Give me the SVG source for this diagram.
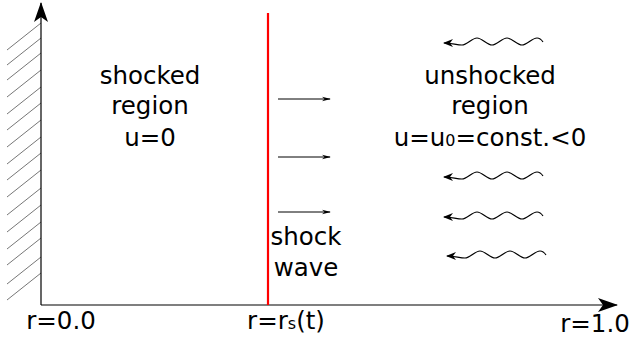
<svg xmlns="http://www.w3.org/2000/svg" width="631" height="339" viewBox="0 0 631 339">
<defs>
<marker id="ah" viewBox="0 0 10 10" refX="9" refY="5" markerWidth="10" markerHeight="10" markerUnits="userSpaceOnUse" orient="auto">
<path d="M0,1 L10,5 L0,9 L3,5 Z" fill="#000"/>
</marker>
<marker id="ahs" viewBox="0 0 10 10" refX="9" refY="5" markerWidth="9" markerHeight="6" markerUnits="userSpaceOnUse" orient="auto" preserveAspectRatio="none">
<path d="M0,1 L10,5 L0,9 L3,5 Z" fill="#000"/>
</marker>
<marker id="big" viewBox="0 0 20 14" refX="19" refY="7" markerWidth="20" markerHeight="14" markerUnits="userSpaceOnUse" orient="auto">
<path d="M0,0 L20,7 L0,14 L5,7 Z" fill="#000"/>
</marker>
<path id="wave" d="M100,-1 C98,-4 96,-5 94,-5 C89,-5 84,2 79,2 S69,-5 64,-5 S54,2 49,2 S39,-5 34,-5 S24,2 19,2 S8,0 1,0"/>
</defs>
<style>
text{font-family:"DejaVu Sans",sans-serif;font-size:24.5px;fill:#000}
.sub{font-size:16px}
.hatch{stroke:#777;stroke-width:1}
.ax{stroke:#000;stroke-width:1.2;fill:none}
.arr{stroke:#000;stroke-width:1;fill:none;marker-end:url(#ahs)}
.wv{stroke:#000;stroke-width:1.2;fill:none;marker-end:url(#ah)}
</style>
<g id="wall" class="hatch">
<line x1="7" y1="50" x2="41" y2="23"/>
<line x1="7" y1="65" x2="41" y2="38"/>
<line x1="7" y1="80" x2="41" y2="53"/>
<line x1="7" y1="97" x2="41" y2="70"/>
<line x1="7" y1="114" x2="41" y2="87"/>
<line x1="7" y1="130" x2="41" y2="103"/>
<line x1="7" y1="147" x2="41" y2="120"/>
<line x1="7" y1="164" x2="41" y2="137"/>
<line x1="7" y1="180" x2="41" y2="153"/>
<line x1="7" y1="197" x2="41" y2="170"/>
<line x1="7" y1="215" x2="41" y2="188"/>
<line x1="7" y1="232" x2="41" y2="205"/>
<line x1="7" y1="249" x2="41" y2="222"/>
<line x1="7" y1="265" x2="41" y2="238"/>
<line x1="7" y1="284" x2="41" y2="257"/>
<line x1="7" y1="300" x2="41" y2="273"/>
</g>
<g id="connectors">
<path class="ax" d="M41,305 L41,3" marker-end="url(#big)"/>
<path class="ax" d="M41,305 L617,305" marker-end="url(#big)"/>
<line x1="268" y1="13" x2="268" y2="305" stroke="#f00" stroke-width="2.2"/>
<path class="arr" d="M278,99 L330,99"/>
<path class="arr" d="M278,157 L330,157"/>
<path class="arr" d="M278,212 L330,212"/>
<use href="#wave" class="wv" transform="translate(443,43)"/>
<use href="#wave" class="wv" transform="translate(443,177)"/>
<use href="#wave" class="wv" transform="translate(443,217)"/>
<use href="#wave" class="wv" transform="translate(446,256)"/>
</g>
<g id="shocked" text-anchor="middle">
<text x="150" y="84">shocked</text>
<text x="150" y="114">region</text>
<text x="150" y="146">u=0</text>
</g>
<g id="unshocked" text-anchor="middle">
<text x="490" y="84">unshocked</text>
<text x="490" y="114">region</text>
<text x="490" y="146">u=u<tspan class="sub">0</tspan>=const.&lt;0</text>
</g>
<g id="shockwave" text-anchor="middle">
<text x="306" y="245">shock</text>
<text x="306" y="276">wave</text>
</g>
<g id="labels">
<text x="61" y="329" text-anchor="middle">r=0.0</text>
<text x="286" y="329" text-anchor="middle">r=r<tspan class="sub">s</tspan>(t)</text>
<text x="595" y="332" text-anchor="middle">r=1.0</text>
</g>
</svg>
